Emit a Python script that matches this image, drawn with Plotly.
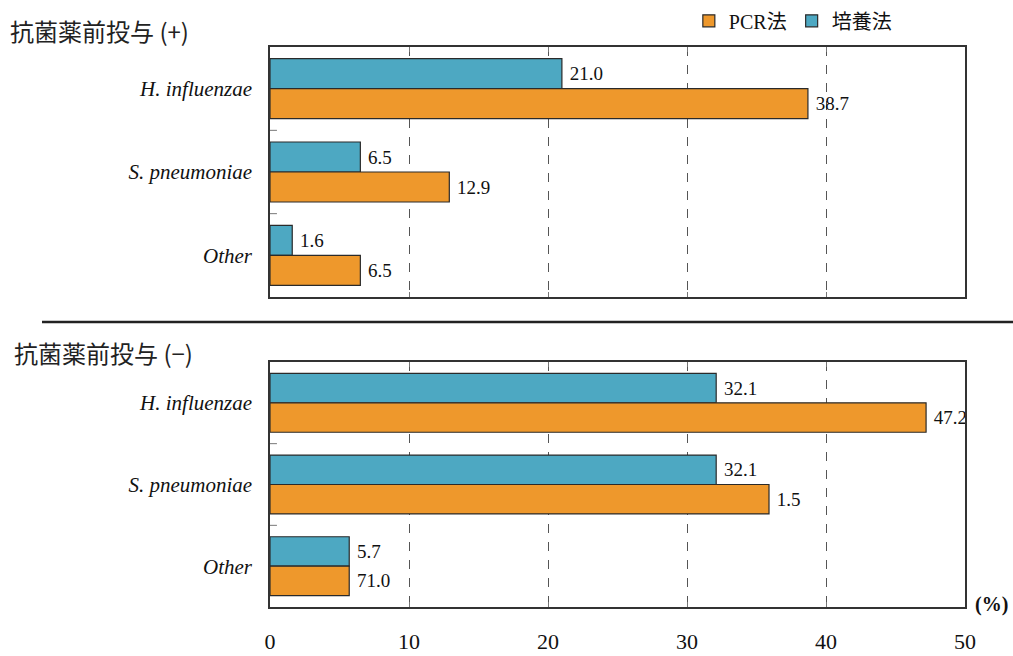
import plotly.graph_objects as go

# Organisms (top to bottom) and axis ticks
categories = ["H. influenzae", "S. pneumoniae", "Other"]
x_ticks = [0, 10, 20, 30, 40, 50]

# Detection rate (%) with prior antibiotic treatment (+)
pcr_pos = [38.7, 12.9, 6.5]
culture_pos = [21.0, 6.5, 1.6]
pcr_pos_text = ["38.7", "12.9", "6.5"]
culture_pos_text = ["21.0", "6.5", "1.6"]

# Detection rate (%) without prior antibiotic treatment (-)
pcr_neg = [47.2, 35.9, 5.7]
culture_neg = [32.1, 32.1, 5.7]
pcr_neg_text = ["47.2", "1.5", "71.0"]
culture_neg_text = ["32.1", "32.1", "5.7"]

ORANGE = "#EE982C"
BLUE = "#4DA8C2"
EDGE = "#2a2a2a"
SERIF = "Times New Roman, Liberation Serif, serif"
CJK = "Times New Roman, Liberation Serif, Noto Sans CJK JP"

W, H = 1013, 656
x_dom = [270 / W, 965 / W]
top_dom = [1 - 297 / H, 1 - 47 / H]
bot_dom = [1 - 607 / H, 1 - 362 / H]

fig = go.Figure()

def add_panel(xa, ya, culture, pcr, ctext, ptext, show_legend):
    fig.add_trace(go.Bar(
        y=categories, x=culture, orientation="h", name="培養法",
        marker=dict(color=BLUE, line=dict(color=EDGE, width=1.2)),
        text=ctext, texttemplate=" %{text}", textposition="outside",
        cliponaxis=False,
        textfont=dict(family=SERIF, size=19, color="#111"),
        xaxis=xa, yaxis=ya, showlegend=show_legend, legendrank=2,
    ))
    fig.add_trace(go.Bar(
        y=categories, x=pcr, orientation="h", name="PCR法",
        marker=dict(color=ORANGE, line=dict(color=EDGE, width=1.2)),
        text=ptext, texttemplate=" %{text}", textposition="outside",
        cliponaxis=False,
        textfont=dict(family=SERIF, size=19, color="#111"),
        xaxis=xa, yaxis=ya, showlegend=show_legend, legendrank=1,
    ))

add_panel("x", "y", culture_pos, pcr_pos, culture_pos_text, pcr_pos_text, True)
add_panel("x2", "y2", culture_neg, pcr_neg, culture_neg_text, pcr_neg_text, False)

xaxis_common = dict(
    range=[0, 50], tickvals=x_ticks, showgrid=True, griddash="dash",
    gridcolor="#555", gridwidth=1, zeroline=False,
    showline=True, linecolor="#333", linewidth=1.5, mirror="ticks",
    ticks="inside", ticklen=5, tickcolor="#777", domain=x_dom,
    automargin=False,
)
yaxis_common = dict(
    autorange="reversed", showline=True, linecolor="#333", linewidth=1.5,
    mirror=True, ticks="", showgrid=False, automargin=False,
    tickfont=dict(family=SERIF, size=21, color="#111", style="italic"),
    ticklabelstandoff=12,
)

fig.update_layout(
    template="none",
    width=W, height=H,
    margin=dict(l=0, r=0, t=0, b=0, pad=0, autoexpand=False),
    paper_bgcolor="white", plot_bgcolor="white",
    barmode="group", bargap=0.28, bargroupgap=0,
    xaxis=dict(**xaxis_common, anchor="y", showticklabels=False),
    yaxis=dict(**yaxis_common, domain=top_dom, anchor="x"),
    xaxis2=dict(**xaxis_common, anchor="y2", showticklabels=True,
                tickfont=dict(family=SERIF, size=22, color="#111"),
                ticklabelstandoff=14),
    yaxis2=dict(**yaxis_common, domain=bot_dom, anchor="x2"),
    legend=dict(
        orientation="h", x=0.68, y=0.998, xanchor="left", yanchor="top",
        font=dict(family=CJK, size=20, color="#111"),
        itemwidth=30, traceorder="normal", bgcolor="rgba(0,0,0,0)",
    ),
    showlegend=True,
)

# Short inward ticks on the left axis between organism groups
for yref, xref in (("y", "x"), ("y2", "x2")):
    for b in (0.5, 1.5):
        fig.add_shape(type="line", xref=xref, yref=yref, x0=0, x1=0.5,
                      y0=b, y1=b, line=dict(color="#777", width=1))

# Divider between the two panels
fig.add_shape(type="line", xref="paper", yref="paper",
              x0=42 / W, x1=1, y0=1 - 322 / H, y1=1 - 322 / H,
              line=dict(color="#222", width=2.5))

# Panel titles and unit
fig.add_annotation(text="抗菌薬前投与 (+)", xref="paper", yref="paper",
                   x=8 / W, y=1 - 31 / H, xanchor="left", yanchor="middle",
                   showarrow=False,
                   font=dict(family="Noto Sans CJK JP", size=24, color="#222"))
fig.add_annotation(text="抗菌薬前投与 (−)", xref="paper", yref="paper",
                   x=12 / W, y=1 - 352 / H, xanchor="left", yanchor="middle",
                   showarrow=False,
                   font=dict(family="Noto Sans CJK JP", size=24, color="#222"))
fig.add_annotation(text="<b>(%)</b>", xref="paper", yref="paper",
                   x=1010 / W, y=1 - 604 / H, xanchor="right", yanchor="middle",
                   showarrow=False,
                   font=dict(family=SERIF, size=20, color="#111"))

fig.write_html(
    "out.html",
    post_script="document.body.style.margin='0';",
)
